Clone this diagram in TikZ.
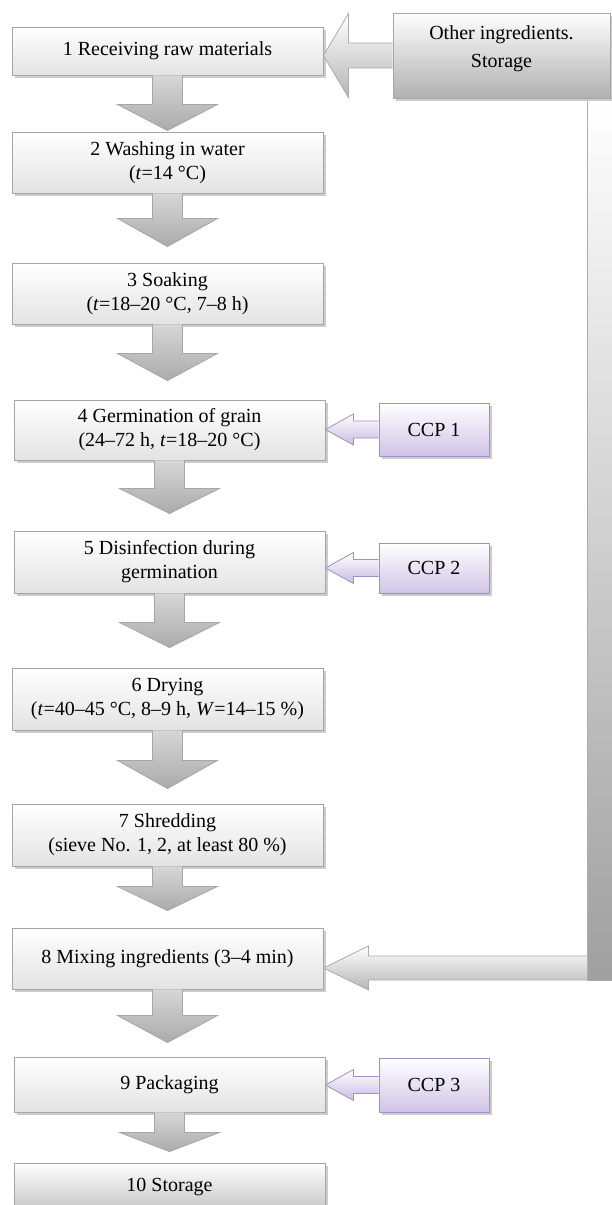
\documentclass[tikz,border=0pt]{standalone}
\usepackage{fontspec}
\setmainfont{Liberation Serif}
\usetikzlibrary{calc,shadows}
\definecolor{ccpline}{HTML}{A08FC8}
\definecolor{ccpfill}{HTML}{D0C4E6}
\definecolor{ccparr}{HTML}{C9BCE0}
\tikzset{
  boxshadow/.style={drop shadow={shadow xshift=3pt,shadow yshift=-3pt,fill=gray!40,opacity=1}},
  stepbox/.style={draw=gray!70, line width=0.9pt, top color=white, bottom color=gray!22,
    align=center, font=\fontsize{20}{24}\selectfont, inner sep=0pt, boxshadow},
  darkstep/.style={stepbox, bottom color=gray!45},
  otherbox/.style={draw=gray!70, line width=0.9pt, top color=white, bottom color=gray!62,
    inner sep=0pt, boxshadow, minimum width=217pt, minimum height=85pt},
  ccpbox/.style={draw=ccpline, line width=0.9pt, top color=white, bottom color=ccpfill,
    align=center, font=\fontsize{20}{24}\selectfont, inner sep=0pt, boxshadow,
    minimum width=110pt},
  dnarr/.style={draw=gray!70, line width=0.8pt, top color=gray!32, bottom color=gray!66},
  bigarr/.style={draw=gray!65, line width=0.8pt, top color=white, bottom color=gray!58},
  ccparrow/.style={draw=ccpline, line width=0.8pt, top color=white, bottom color=ccparr},
  barstyle/.style={draw=gray!65, line width=0.8pt, top color=white, middle color=gray!18, bottom color=gray!75},
}
% down block arrow: source node, target node, shaft length, gap above target
\newcommand\dnarrow[4]{%
  \path[dnarr] let \p1=(#1.south), \p2=(#2.north) in
    (\x1+15pt,\y1) -- (\x1+15pt,\y1-#3) -- (\x1+50pt,\y1-#3) -- (\x1,\y2+#4)
    -- (\x1-50pt,\y1-#3) -- (\x1-15pt,\y1-#3) -- (\x1-15pt,\y1);
}
% left block arrow: shaft start point, tip point (x only), head length, head half, shaft half, style
\newcommand\lfarrow[6]{%
  \path[#6] let \p1=(#1), \p2=(#2) in
    (\x1,\y1+#5) -- (\x2+#3,\y1+#5) -- (\x2+#3,\y1+#4) -- (\x2,\y1)
    -- (\x2+#3,\y1-#4) -- (\x2+#3,\y1-#5) -- (\x1,\y1-#5);
}
\begin{document}
\begin{tikzpicture}[x=1pt,y=-1pt]
\useasboundingbox (0,0) rectangle (612,1205);
\fill[white] (0,0) rectangle (612,1205);

% vertical return bar
\path[barstyle] (616,98) -- (587,98) -- (587,980) -- (616,980);

% other ingredients box
\node[otherbox] (other) at (501.5,55.5) {};
\node[font=\fontsize{20}{28}\selectfont, align=center] (othertxt) at (501.5,49) {Other ingredients.\\Storage};

% step boxes
\node[stepbox, minimum width=311pt, minimum height=48pt] (b1) at (167.5,51) {1 Receiving raw materials};
\node[stepbox, minimum width=311pt, minimum height=61pt] (b2) at (167.5,162.5) {2 Washing in water\\(\textit{t}=14 °C)};
\node[stepbox, minimum width=311pt, minimum height=61pt] (b3) at (167.5,293.5) {3 Soaking\\(\textit{t}=18–20 °C, 7–8 h)};
\node[stepbox, minimum width=311pt, minimum height=60pt] (b4) at (169.5,430) {4 Germination of grain\\(24–72 h, \textit{t}=18–20 °C)};
\node[stepbox, minimum width=311pt, minimum height=62pt] (b5) at (169.5,562) {5 Disinfection during\\germination};
\node[stepbox, minimum width=311pt, minimum height=62pt] (b6) at (167.5,699) {6 Drying\\(\textit{t}=40–45 °C, 8–9 h, \textit{W}=14–15 \%)};
\node[stepbox, minimum width=311pt, minimum height=62pt] (b7) at (167.5,835) {7 Shredding\\(sieve No. 1, 2, at least 80 \%)};
\node[stepbox, minimum width=311pt, minimum height=61pt] (b8) at (167.5,958.5) {8 Mixing ingredients (3–4 min)};
\node[stepbox, minimum width=311pt, minimum height=55pt] (b9) at (169.5,1084.5) {9 Packaging};
\node[darkstep, minimum width=311pt, minimum height=47pt] (b10) at (169.5,1186.5) {10 Storage};

% CCP boxes
\node[ccpbox, minimum height=53pt] (c1) at (434,429.5) {CCP 1};
\node[ccpbox, minimum height=50pt] (c2) at (434,568) {CCP 2};
\node[ccpbox, minimum height=54pt] (c3) at (434,1085) {CCP 3};

% down arrows
\dnarrow{b1}{b2}{29pt}{1pt}
\dnarrow{b2}{b3}{25pt}{16pt}
\dnarrow{b3}{b4}{29pt}{19pt}
\dnarrow{b4}{b5}{28pt}{17pt}
\dnarrow{b5}{b6}{29pt}{20pt}
\dnarrow{b6}{b7}{30pt}{15pt}
\dnarrow{b7}{b8}{20pt}{17pt}
\dnarrow{b8}{b9}{26pt}{14pt}
\dnarrow{b9}{b10}{20pt}{11pt}

% other ingredients -> receiving
\lfarrow{other.west}{b1.east}{25pt}{42pt}{12.5pt}{bigarr}

% return bar -> mixing
\coordinate (join) at (587,968);
\lfarrow{join}{b8.east}{45pt}{22pt}{12pt}{bigarr}

% CCP arrows
\lfarrow{c1.west}{b4.east}{28pt}{15.5pt}{8.5pt}{ccparrow}
\lfarrow{c2.west}{b5.east}{28pt}{15.5pt}{8.5pt}{ccparrow}
\lfarrow{c3.west}{b9.east}{28pt}{15.5pt}{8.5pt}{ccparrow}
\end{tikzpicture}
\end{document}
